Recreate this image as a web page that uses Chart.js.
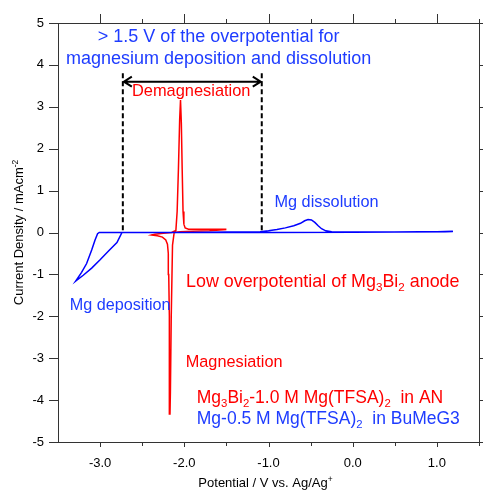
<!DOCTYPE html>
<html>
<head>
<meta charset="utf-8">
<script src="https://cdn.jsdelivr.net/npm/chart.js@4.4.1/dist/chart.umd.min.js"></script>
<style>
  body { margin: 0; background: #fff; }
  #wrap { width: 483px; height: 490px; }
</style>
</head>
<body>
<div id="wrap"><canvas id="cv" width="483" height="490"></canvas></div>
<script>
// Mg in BuMeG3 (blue): potential (V) and current density (mA cm-2)
const mgV = [1.19, 0.5, 0.0, -1.0, -2.0, -2.74, -2.80, -2.90, -3.00, -3.10, -3.20, -3.29,
             -3.22, -3.16, -3.10, -3.06, -3.03, -3.01, -2.5, -2.0, -1.5, -1.1, -1.0, -0.9,
             -0.8, -0.7, -0.62, -0.57, -0.53, -0.49, -0.45, -0.41, -0.37, -0.32, -0.25,
             0.0, 0.5, 1.0, 1.19];
const mgI = [0.02, 0.01, 0.005, 0.0, 0.0, 0.0, -0.24, -0.44, -0.65, -0.85, -1.02, -1.16,
             -0.95, -0.74, -0.42, -0.18, -0.03, 0.0, 0.0, 0.0, 0.01, 0.02, 0.04, 0.07,
             0.11, 0.16, 0.22, 0.28, 0.31, 0.30, 0.24, 0.16, 0.09, 0.04, 0.02,
             0.01, 0.01, 0.02, 0.03];

// Mg3Bi2 in AN (red)
const biV = [-1.50, -1.70, -1.90, -2.05, -2.12, -2.14, -2.155, -2.165, -2.17, -2.175, -2.18,
             -2.185, -2.19, -2.20, -2.22, -2.26, -2.32, -2.39, -2.35, -2.25, -2.15, -2.10,
             -2.085, -2.07, -2.055, -2.045, -2.035, -2.025, -2.015, -2.005, -1.99, -1.95,
             -1.80, -1.60, -1.50];
const biI = [0.07, 0.04, 0.03, 0.02, 0.0, -0.3, -2.0, -3.8, -4.33, -3.5, -2.0,
             -1.0, -0.5, -0.28, -0.18, -0.11, -0.08, -0.06, -0.04, -0.02, 0.0, 0.05,
             0.5, 1.5, 2.7, 3.16, 2.6, 1.5, 0.5, 0.2, 0.11, 0.08,
             0.08, 0.08, 0.08];

const xTickVals = [-3, -2, -1, 0, 1];
const xMinorVals = [-2.5, -1.5, -0.5, 0.5, 1.5];
const yTickVals = [-5, -4, -3, -2, -1, 0, 1, 2, 3, 4, 5];

// dashed guides and arrow (data coordinates)
const guideX = [-2.73, -1.08];
const guideTop = 3.8;
const arrowY = 3.6;

const BLUE = '#0000ff';
const BLUE_TXT = '#1e3cff';
const RED = '#ff0000';
const FONT = '"Liberation Sans", Arial, Helvetica, sans-serif';

function toXY(xs, ys) { return xs.map((x, i) => ({ x: x, y: ys[i] })); }

// draw text pieces with sub/superscripts, baseline at y
function drawRich(ctx, parts, x, y, size, color, align) {
  ctx.save();
  ctx.fillStyle = color;
  ctx.textBaseline = 'alphabetic';
  let w = 0;
  parts.forEach(p => {
    const s = p[1] === 'n' ? size : size * 0.65;
    ctx.font = s + 'px ' + FONT;
    w += ctx.measureText(p[0]).width;
  });
  let cx = align === 'center' ? x - w / 2 : x;
  parts.forEach(p => {
    const s = p[1] === 'n' ? size : size * 0.65;
    ctx.font = s + 'px ' + FONT;
    let dy = 0;
    if (p[1] === 'b') dy = size * 0.22;
    if (p[1] === 'p') dy = -size * 0.42;
    ctx.fillText(p[0], cx, y + dy);
    cx += ctx.measureText(p[0]).width;
  });
  ctx.restore();
}

const labels = [
  { parts: [['> 1.5 V of the overpotential for', 'n']], x: -1.593, y: 4.547, size: 18, color: BLUE_TXT, align: 'center' },
  { parts: [['magnesium deposition and dissolution', 'n']], x: -1.593, y: 4.010, size: 18, color: BLUE_TXT, align: 'center' },
  { parts: [['Demagnesiation', 'n']], x: -1.918, y: 3.258, size: 16.4, color: RED, align: 'center' },
  { parts: [['Mg dissolution', 'n']], x: -0.929, y: 0.609, size: 16.3, color: BLUE_TXT, align: 'left' },
  { parts: [['Mg deposition', 'n']], x: -3.361, y: -1.850, size: 16.2, color: BLUE_TXT, align: 'left' },
  { parts: [['Low overpotential of Mg', 'n'], ['3', 'b'], ['Bi', 'n'], ['2', 'b'], [' anode', 'n']], x: -1.98, y: -1.301, size: 17.9, color: RED, align: 'left' },
  { parts: [['Magnesiation', 'n']], x: -1.983, y: -3.210, size: 16.3, color: RED, align: 'left' },
  { parts: [['Mg', 'n'], ['3', 'b'], ['Bi', 'n'], ['2', 'b'], ['-1.0 M Mg(TFSA)', 'n'], ['2', 'b'], ['  in AN', 'n']], x: -1.852, y: -4.081, size: 17.5, color: RED, align: 'left' },
  { parts: [['Mg-0.5 M Mg(TFSA)', 'n'], ['2', 'b'], ['  in BuMeG3', 'n']], x: -1.852, y: -4.570, size: 17.5, color: BLUE_TXT, align: 'left' }
];

const decor = {
  id: 'decor',
  afterDatasetsDraw(chart) {
    const ctx = chart.ctx;
    const a = chart.chartArea;
    const xs = chart.scales.x, ys = chart.scales.y;
    ctx.save();

    // frame and ticks
    ctx.strokeStyle = '#333';
    ctx.lineWidth = 1;
    ctx.strokeRect(Math.round(a.left) + 0.5, Math.round(a.top) + 0.5, Math.round(a.right - a.left), Math.round(a.bottom - a.top));
    ctx.beginPath();
    yTickVals.forEach(v => {
      const py = Math.round(ys.getPixelForValue(v)) + 0.5;
      ctx.moveTo(a.left - 9, py); ctx.lineTo(a.left, py);
      ctx.moveTo(a.right, py); ctx.lineTo(a.right + 4, py);
    });
    xTickVals.forEach(v => {
      const px = Math.round(xs.getPixelForValue(v)) + 0.5;
      ctx.moveTo(px, a.top - 9); ctx.lineTo(px, a.top);
      ctx.moveTo(px, a.bottom); ctx.lineTo(px, a.bottom + 5);
    });
    xMinorVals.forEach(v => {
      const px = Math.round(xs.getPixelForValue(v)) + 0.5;
      ctx.moveTo(px, a.top - 4); ctx.lineTo(px, a.top);
      ctx.moveTo(px, a.bottom); ctx.lineTo(px, a.bottom + 4);
    });
    ctx.stroke();

    // dashed guide lines
    ctx.strokeStyle = '#000';
    ctx.lineWidth = 2;
    ctx.setLineDash([5, 3]);
    ctx.beginPath();
    guideX.forEach(v => {
      const px = xs.getPixelForValue(v);
      ctx.moveTo(px, ys.getPixelForValue(guideTop));
      ctx.lineTo(px, ys.getPixelForValue(0.02));
    });
    ctx.stroke();
    ctx.setLineDash([]);

    // double arrow
    const x1 = xs.getPixelForValue(guideX[0]), x2 = xs.getPixelForValue(guideX[1]);
    const ay = ys.getPixelForValue(arrowY);
    ctx.beginPath();
    ctx.moveTo(x1 + 1, ay); ctx.lineTo(x2 - 1, ay);
    ctx.moveTo(x1 + 9, ay - 5); ctx.lineTo(x1 + 1, ay); ctx.lineTo(x1 + 9, ay + 5);
    ctx.moveTo(x2 - 9, ay - 5); ctx.lineTo(x2 - 1, ay); ctx.lineTo(x2 - 9, ay + 5);
    ctx.stroke();

    // annotation texts
    labels.forEach(l => {
      drawRich(ctx, l.parts, xs.getPixelForValue(l.x), ys.getPixelForValue(l.y), l.size, l.color, l.align);
    });

    // axis titles
    const cx = (a.left + a.right) / 2;
    drawRich(ctx, [['Potential / V vs. Ag/Ag', 'n'], ['+', 'p']], cx - 3, 487, 13, '#000', 'center');
    ctx.translate(23, (a.top + a.bottom) / 2);
    ctx.rotate(-Math.PI / 2);
    drawRich(ctx, [['Current Density / mAcm', 'n'], ['-2', 'p']], 0, 0, 13, '#000', 'center');
    ctx.restore();
  }
};

new Chart(document.getElementById('cv').getContext('2d'), {
  type: 'scatter',
  data: {
    datasets: [
      { label: 'Mg-0.5 M Mg(TFSA)2 in BuMeG3', data: toXY(mgV, mgI), showLine: true,
        borderColor: BLUE, borderWidth: 1.5, pointRadius: 0, tension: 0 },
      { label: 'Mg3Bi2-1.0 M Mg(TFSA)2 in AN', data: toXY(biV, biI), showLine: true,
        borderColor: RED, borderWidth: 1.5, pointRadius: 0, tension: 0 }
    ]
  },
  options: {
    responsive: false,
    animation: false,
    devicePixelRatio: 1,
    layout: { padding: { top: 23, right: 4, bottom: 0, left: 0 } },
    plugins: { legend: { display: false }, tooltip: { enabled: false } },
    scales: {
      x: {
        type: 'linear', min: -3.5, max: 1.5,
        afterBuildTicks: s => { s.ticks = xTickVals.map(v => ({ value: v })); },
        afterFit: s => { s.height = 48; },
        grid: { display: false, drawTicks: false },
        border: { display: false },
        ticks: { padding: 14, color: '#000', font: { family: FONT, size: 13 },
                 maxRotation: 0, autoSkip: false, callback: v => Number(v).toFixed(1) }
      },
      y: {
        type: 'linear', min: -5, max: 5,
        afterBuildTicks: s => { s.ticks = yTickVals.map(v => ({ value: v })); },
        afterFit: s => { s.width = 58; },
        grid: { display: false, drawTicks: false },
        border: { display: false },
        ticks: { padding: 14, color: '#000', font: { family: FONT, size: 13 },
                 autoSkip: false, callback: v => String(v) }
      }
    }
  },
  plugins: [decor]
});
</script>
</body>
</html>
